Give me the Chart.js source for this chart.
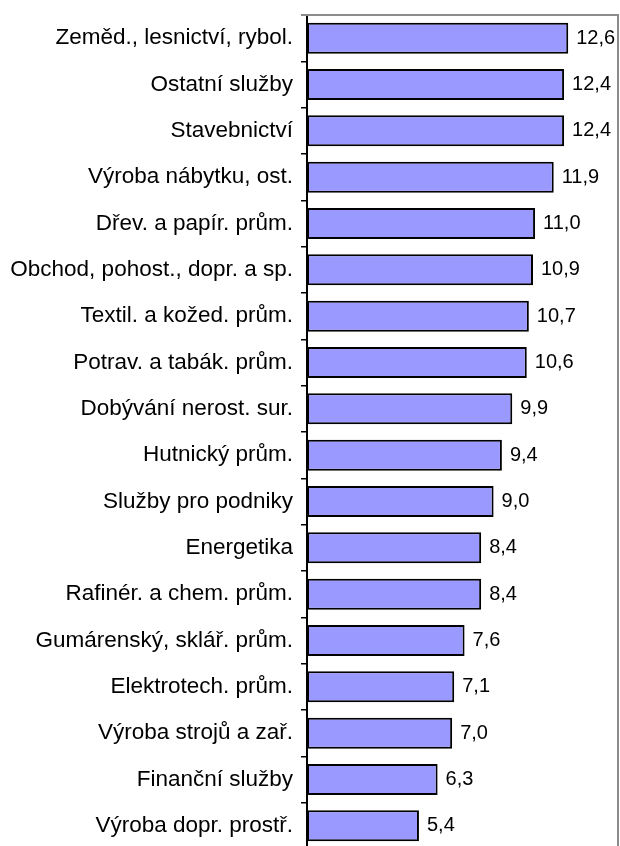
<!DOCTYPE html>
<html>
<head>
<meta charset="utf-8">
<script src="https://cdn.jsdelivr.net/npm/chart.js@4"></script>
<style>
  html, body { margin: 0; padding: 0; background: #fff; overflow: hidden; }
  #wrap { width: 620px; height: 850px; }
</style>
</head>
<body>
<div id="wrap"><canvas id="chart"></canvas></div>
<script>
// odvetvi a hodnoty (shora dolu)
const categories = [
  'Zeměd., lesnictví, rybol.',
  'Ostatní služby',
  'Stavebnictví',
  'Výroba nábytku, ost.',
  'Dřev. a papír. prům.',
  'Obchod, pohost., dopr. a sp.',
  'Textil. a kožed. prům.',
  'Potrav. a tabák. prům.',
  'Dobývání nerost. sur.',
  'Hutnický prům.',
  'Služby pro podniky',
  'Energetika',
  'Rafinér. a chem. prům.',
  'Gumárenský, sklář. prům.',
  'Elektrotech. prům.',
  'Výroba strojů a zař.',
  'Finanční služby',
  'Výroba dopr. prostř.'
];
const values = [12.6, 12.4, 12.4, 11.9, 11.0, 10.9, 10.7, 10.6, 9.9, 9.4, 9.0, 8.4, 8.4, 7.6, 7.1, 7.0, 6.3, 5.4];
const xMin = 0;
const xMax = 15;

const FONT = 'Liberation Sans, Arial, sans-serif';

// hodnoty za koncem sloupce
const valueLabels = {
  id: 'valueLabels',
  afterDatasetsDraw(chart) {
    const ctx = chart.ctx;
    const meta = chart.getDatasetMeta(0);
    ctx.save();
    ctx.font = '20px ' + FONT;
    ctx.fillStyle = '#000';
    ctx.textAlign = 'left';
    ctx.textBaseline = 'middle';
    meta.data.forEach((bar, i) => {
      ctx.fillText(values[i].toFixed(1).replace('.', ','), bar.x + 8, bar.y);
    });
    ctx.restore();
  }
};

// sedy ramecek nahore a vpravo
const plotFrame = {
  id: 'plotFrame',
  beforeDatasetsDraw(chart) {
    const a = chart.chartArea;
    const ctx = chart.ctx;
    ctx.save();
    ctx.strokeStyle = '#8c8c8c';
    ctx.lineWidth = 2;
    ctx.beginPath();
    ctx.moveTo(a.left - 6, a.top);
    ctx.lineTo(a.right, a.top);
    ctx.lineTo(a.right, a.bottom);
    ctx.stroke();
    ctx.restore();
  }
};

new Chart(document.getElementById('chart'), {
  type: 'bar',
  data: {
    labels: categories,
    datasets: [{
      data: values,
      backgroundColor: '#9999ff',
      borderColor: '#000',
      borderWidth: 2,
      borderSkipped: false,
      categoryPercentage: 1,
      barPercentage: 0.67
    }]
  },
  options: {
    indexAxis: 'y',
    responsive: true,
    maintainAspectRatio: false,
    animation: false,
    layout: { padding: { top: 15, right: 2, bottom: 1, left: 0 } },
    plugins: {
      legend: { display: false },
      tooltip: { enabled: false }
    },
    scales: {
      x: {
        display: false,
        min: xMin,
        max: xMax
      },
      y: {
        afterFit(scale) {
          scale.width = 307;
          scale.paddingTop = 0;
          scale.paddingBottom = 0;
        },
        grid: {
          offset: true,
          drawOnChartArea: false,
          color: '#000',
          tickLength: 6,
          lineWidth: 1.5
        },
        border: { display: true, color: '#000', width: 2 },
        ticks: {
          color: '#000',
          padding: 8,
          font: { family: FONT, size: 22.5 }
        }
      }
    }
  },
  plugins: [plotFrame, valueLabels]
});
</script>
</body>
</html>
